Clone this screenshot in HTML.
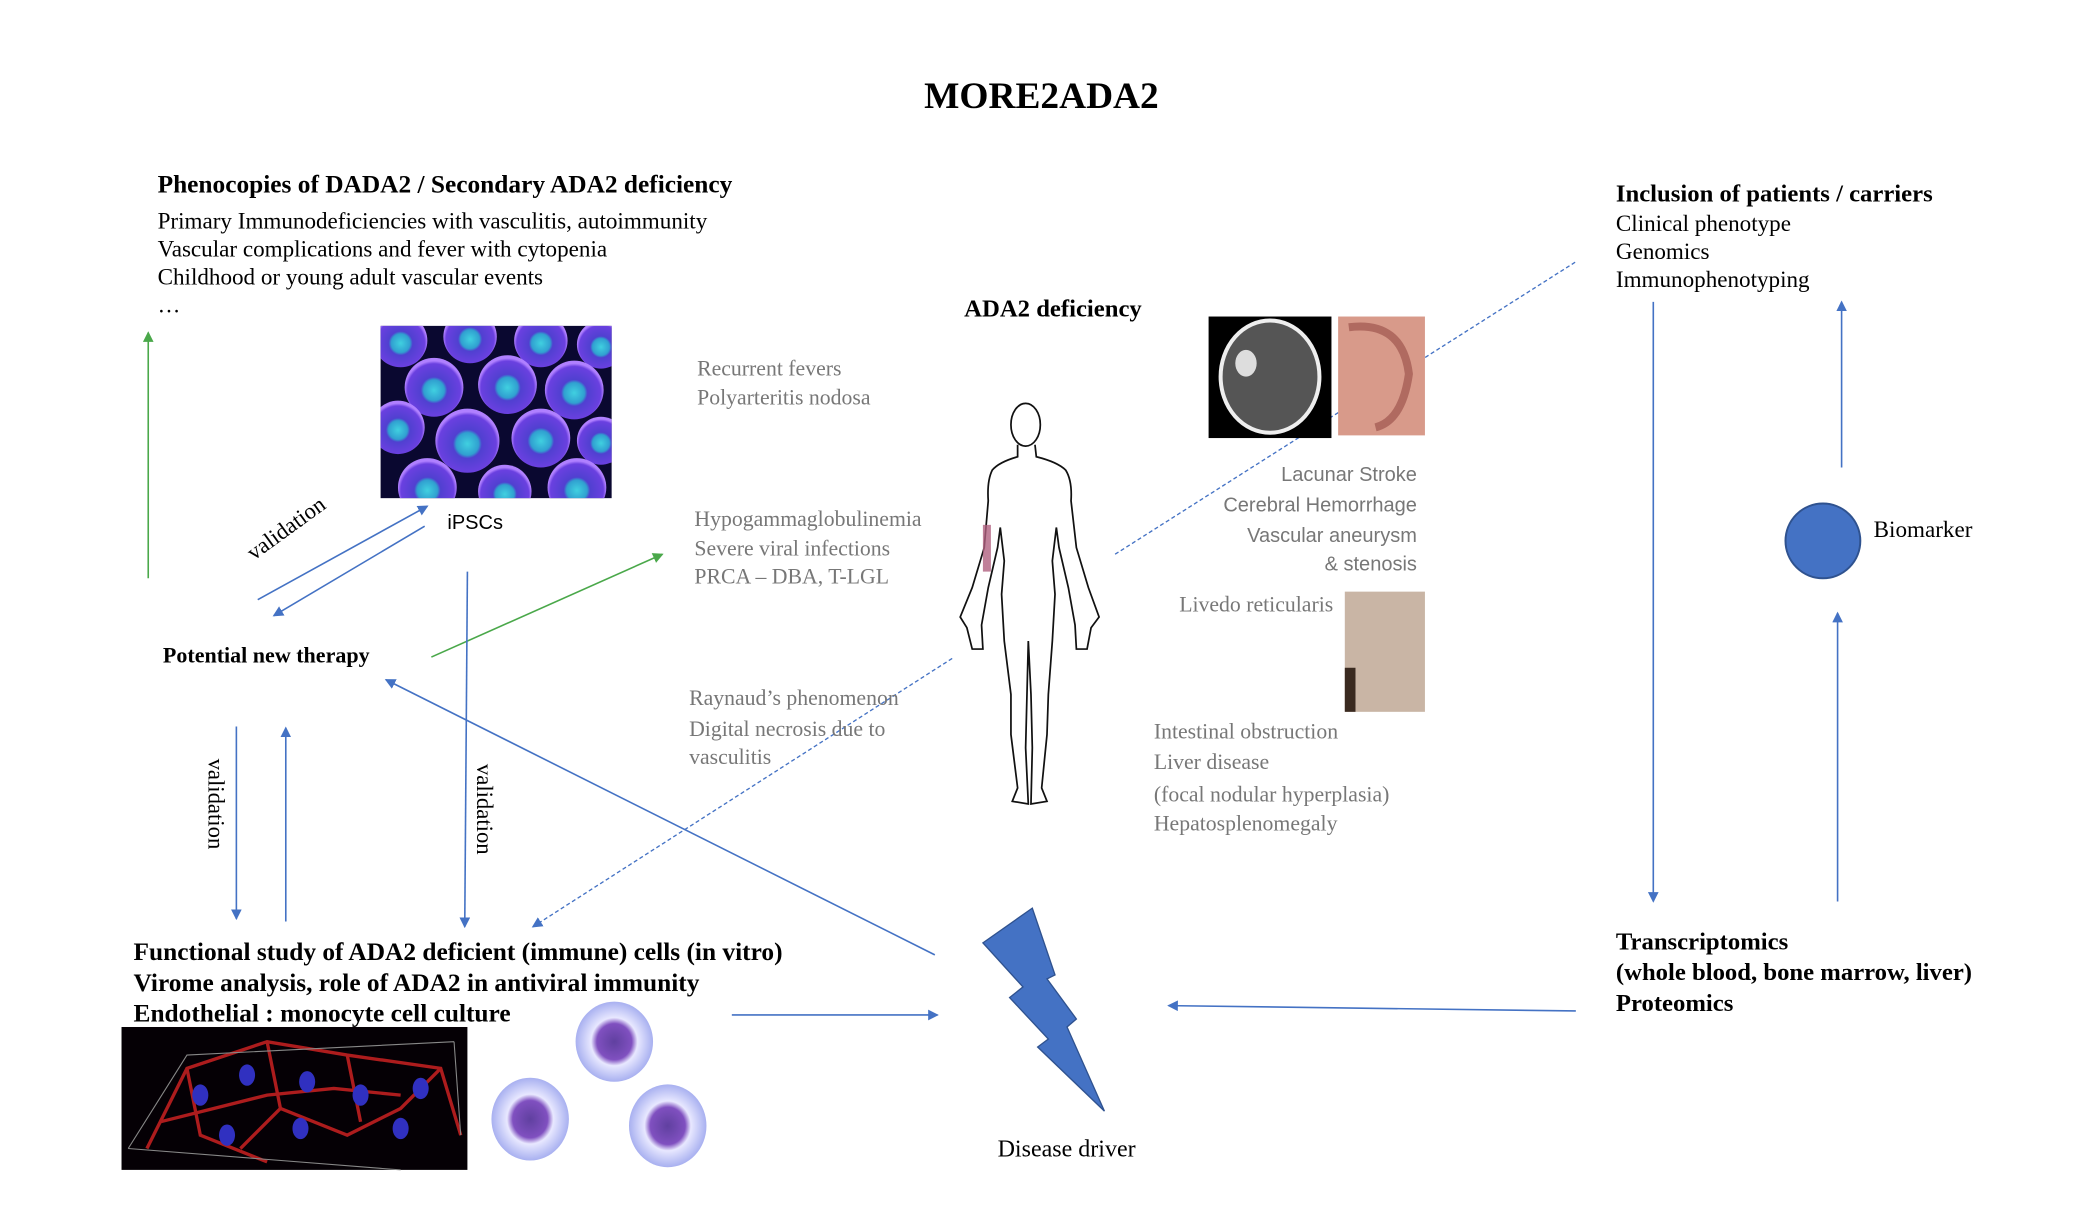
<!DOCTYPE html>
<html><head><meta charset="utf-8"><style>
html,body{margin:0;padding:0;background:#fff;}
svg{display:block;}
.s{font-family:"Liberation Serif",serif;}
.b{font-weight:bold;}
.g{fill:#777;}
.ss{font-family:"Liberation Sans",sans-serif;}
</style></head><body>
<svg width="2094" height="1222" viewBox="0 0 1568 915" xmlns="http://www.w3.org/2000/svg">
<defs>
<marker id="ab" markerWidth="8" markerHeight="8" refX="7" refY="4" orient="auto" markerUnits="userSpaceOnUse"><path d="M0,0 L8,4 L0,8 z" fill="#4472c4"/></marker>
<marker id="ag" markerWidth="8" markerHeight="8" refX="7" refY="4" orient="auto" markerUnits="userSpaceOnUse"><path d="M0,0 L8,4 L0,8 z" fill="#4aa84a"/></marker>
<radialGradient id="cell" cx="0.5" cy="0.55" r="0.5"><stop offset="0" stop-color="#40d0e0"/><stop offset="0.35" stop-color="#30a0d0"/><stop offset="0.45" stop-color="#5040d0"/><stop offset="0.9" stop-color="#6a40e0"/><stop offset="1" stop-color="#b080ff"/></radialGradient>
<radialGradient id="mono" cx="0.5" cy="0.5" r="0.5"><stop offset="0" stop-color="#6040a0"/><stop offset="0.45" stop-color="#8050c0"/><stop offset="0.6" stop-color="#e8e8ff"/><stop offset="1" stop-color="#a8b0f0"/></radialGradient>
<clipPath id="cc"><rect x="285" y="244" width="173" height="129"/></clipPath>
</defs>

<text x="692" y="81" class="s b" font-size="28">MORE2ADA2</text>

<text x="118" y="144" class="s b" font-size="19">Phenocopies of DADA2 / Secondary ADA2 deficiency</text>
<text x="118" y="171" class="s" font-size="17.3">Primary Immunodeficiencies with vasculitis, autoimmunity</text>
<text x="118" y="192" class="s" font-size="17.3">Vascular complications and fever with cytopenia</text>
<text x="118" y="213" class="s" font-size="17.3">Childhood or young adult vascular events</text>
<text x="118" y="234" class="s" font-size="17">…</text>

<rect x="285" y="244" width="173" height="129" fill="#0a0830"/>
<g clip-path="url(#cc)">
<circle cx="300" cy="255" r="20" fill="url(#cell)"/><circle cx="352" cy="252" r="20" fill="url(#cell)"/><circle cx="405" cy="255" r="20" fill="url(#cell)"/><circle cx="450" cy="258" r="18" fill="url(#cell)"/>
<circle cx="325" cy="290" r="22" fill="url(#cell)"/><circle cx="380" cy="288" r="22" fill="url(#cell)"/><circle cx="430" cy="292" r="22" fill="url(#cell)"/>
<circle cx="298" cy="320" r="20" fill="url(#cell)"/><circle cx="350" cy="330" r="24" fill="url(#cell)"/><circle cx="405" cy="328" r="22" fill="url(#cell)"/><circle cx="450" cy="330" r="18" fill="url(#cell)"/>
<circle cx="320" cy="365" r="22" fill="url(#cell)"/><circle cx="378" cy="368" r="20" fill="url(#cell)"/><circle cx="432" cy="365" r="22" fill="url(#cell)"/>
</g>

<text x="335" y="396" class="ss" font-size="15">iPSCs</text>
<text class="s" font-size="17" transform="translate(190,420) rotate(-36)">validation</text>

<line x1="111" y1="433" x2="111" y2="249" stroke="#4aa84a" stroke-width="1.2" marker-end="url(#ag)"/>
<line x1="193" y1="449" x2="320" y2="379" stroke="#4472c4" stroke-width="1.2" marker-end="url(#ab)"/>
<line x1="318" y1="394" x2="205" y2="461" stroke="#4472c4" stroke-width="1.2" marker-end="url(#ab)"/>

<text x="122" y="496" class="s b" font-size="16.5">Potential new therapy</text>
<line x1="323" y1="492" x2="496" y2="415" stroke="#4aa84a" stroke-width="1.2" marker-end="url(#ag)"/>

<line x1="350" y1="428" x2="348" y2="694" stroke="#4472c4" stroke-width="1.2" marker-end="url(#ab)"/>
<text class="s" font-size="17" transform="translate(357,572) rotate(90)">validation</text>
<line x1="177" y1="544" x2="177" y2="688" stroke="#4472c4" stroke-width="1.2" marker-end="url(#ab)"/>
<line x1="214" y1="690" x2="214" y2="545" stroke="#4472c4" stroke-width="1.2" marker-end="url(#ab)"/>
<text class="s" font-size="17" transform="translate(156,568) rotate(90)">validation</text>

<line x1="700" y1="715" x2="289" y2="509" stroke="#4472c4" stroke-width="1.2" marker-end="url(#ab)"/>
<line x1="713" y1="493" x2="399" y2="694" stroke="#4472c4" stroke-width="1" stroke-dasharray="3,2" marker-end="url(#ab)"/>
<line x1="835" y1="415" x2="1180" y2="196" stroke="#4472c4" stroke-width="1" stroke-dasharray="3,2"/>

<text x="100" y="719" class="s b" font-size="19">Functional study of ADA2 deficient (immune) cells (in vitro)</text>
<text x="100" y="742" class="s b" font-size="19">Virome analysis, role of ADA2 in antiviral immunity</text>
<text x="100" y="765" class="s b" font-size="19">Endothelial : monocyte cell culture</text>

<rect x="91" y="769" width="259" height="107" fill="#050005"/>
<g stroke="#c02020" stroke-width="2.5" fill="none" opacity="0.9">
<path d="M110 860 L140 800 L200 780 L260 790 L330 800 L345 850"/>
<path d="M140 800 L150 850 L200 870 M200 780 L210 830 L260 850 L300 830 L330 800 M210 830 L180 860 M260 790 L270 840 M120 840 L160 830 L200 820 L250 815 L300 820"/>
</g>
<g fill="#3030c0"><ellipse cx="150" cy="820" rx="6" ry="8"/><ellipse cx="185" cy="805" rx="6" ry="8"/><ellipse cx="230" cy="810" rx="6" ry="8"/><ellipse cx="270" cy="820" rx="6" ry="8"/><ellipse cx="170" cy="850" rx="6" ry="8"/><ellipse cx="225" cy="845" rx="6" ry="8"/><ellipse cx="300" cy="845" rx="6" ry="8"/><ellipse cx="315" cy="815" rx="6" ry="8"/></g>
<path d="M96 860 L140 790 L340 780 M96 860 L300 876 M340 780 L345 850" stroke="#888" stroke-width="0.8" fill="none"/>

<ellipse cx="460" cy="780" rx="29" ry="30" fill="url(#mono)"/>
<ellipse cx="397" cy="838" rx="29" ry="31" fill="url(#mono)"/>
<ellipse cx="500" cy="843" rx="29" ry="31" fill="url(#mono)"/>

<line x1="548" y1="760" x2="702" y2="760" stroke="#4472c4" stroke-width="1.2" marker-end="url(#ab)"/>

<polygon points="736,706 773,680 790,730 784,733 806,763 799,769 827,832 777,784 785,778 756,747 766,739" fill="#4472c4" stroke="#2f528f" stroke-width="1"/>
<text x="747" y="866" class="s" font-size="18">Disease driver</text>

<text x="522" y="281" class="s g" font-size="16.3">Recurrent fevers</text>
<text x="522" y="303" class="s g" font-size="16.3">Polyarteritis nodosa</text>
<text x="520" y="394" class="s g" font-size="16.3">Hypogammaglobulinemia</text>
<text x="520" y="416" class="s g" font-size="16.3">Severe viral infections</text>
<text x="520" y="437" class="s g" font-size="16.3">PRCA – DBA, T-LGL</text>
<text x="516" y="528" class="s g" font-size="16.3">Raynaud’s phenomenon</text>
<text x="516" y="551" class="s g" font-size="16.3">Digital necrosis due to</text>
<text x="516" y="572" class="s g" font-size="16.3">vasculitis</text>

<text x="722" y="237" class="s b" font-size="18.5">ADA2 deficiency</text>

<g fill="none" stroke="#111" stroke-width="1.3">
<ellipse cx="768" cy="318" rx="11" ry="16"/>
<path d="M762 333 L762 342 Q748 346 743 352 Q739 360 740 375 L737 410 L728 440 L719 462 L724 470 L728 486 L736 486 L735 468 L740 440 L747 410 L749 395 L752 420 L750 445 L752 480 L757 520 L757 550 L762 590 L758 600 L770 602 L768 560 L769 520 L770 480 L772 520 L773 560 L772 602 L784 600 L780 590 L784 550 L785 520 L788 480 L790 445 L788 420 L791 395 L793 410 L800 440 L805 468 L806 486 L814 486 L817 470 L823 462 L815 440 L806 410 L802 375 Q803 360 798 352 Q792 346 776 342 L775 333"/>
</g>
<rect x="736" y="393" width="6" height="35" fill="#b06080" opacity="0.8"/>

<rect x="905" y="237" width="92" height="91" fill="#000"/>
<ellipse cx="951" cy="282" rx="37" ry="42" fill="#555" stroke="#eee" stroke-width="3"/>
<ellipse cx="933" cy="272" rx="8" ry="10" fill="#ddd"/>
<rect x="1002" y="237" width="65" height="89" fill="#d89a8a"/>
<path d="M1010 245 Q1050 240 1055 280 Q1050 315 1030 320" stroke="#b06a60" stroke-width="6" fill="none"/>

<text x="1061" y="360" class="ss g" font-size="15" text-anchor="end">Lacunar Stroke</text>
<text x="1061" y="383" class="ss g" font-size="15" text-anchor="end">Cerebral Hemorrhage</text>
<text x="1061" y="406" class="ss g" font-size="15" text-anchor="end">Vascular aneurysm</text>
<text x="1061" y="427" class="ss g" font-size="15" text-anchor="end">&amp; stenosis</text>

<text x="883" y="458" class="s g" font-size="16.3">Livedo reticularis</text>
<rect x="1007" y="443" width="60" height="90" fill="#c9b5a5"/>
<rect x="1007" y="500" width="8" height="33" fill="#3a2a20"/>

<text x="864" y="553" class="s g" font-size="16.3">Intestinal obstruction</text>
<text x="864" y="576" class="s g" font-size="16.3">Liver disease</text>
<text x="864" y="600" class="s g" font-size="16.3">(focal nodular hyperplasia)</text>
<text x="864" y="622" class="s g" font-size="16.3">Hepatosplenomegaly</text>

<text x="1210" y="151" class="s b" font-size="18.5">Inclusion of patients / carriers</text>
<text x="1210" y="173" class="s" font-size="17.3">Clinical phenotype</text>
<text x="1210" y="194" class="s" font-size="17.3">Genomics</text>
<text x="1210" y="215" class="s" font-size="17.3">Immunophenotyping</text>

<line x1="1238" y1="226" x2="1238" y2="675" stroke="#4472c4" stroke-width="1.2" marker-end="url(#ab)"/>
<line x1="1379" y1="350" x2="1379" y2="226" stroke="#4472c4" stroke-width="1.2" marker-end="url(#ab)"/>
<circle cx="1365" cy="405" r="28" fill="#4472c4" stroke="#2f528f" stroke-width="1.5"/>
<text x="1403" y="402" class="s" font-size="17.3">Biomarker</text>
<line x1="1376" y1="675" x2="1376" y2="459" stroke="#4472c4" stroke-width="1.2" marker-end="url(#ab)"/>

<text x="1210" y="711" class="s b" font-size="18.5">Transcriptomics</text>
<text x="1210" y="734" class="s b" font-size="18.5">(whole blood, bone marrow, liver)</text>
<text x="1210" y="757" class="s b" font-size="18.5">Proteomics</text>
<line x1="1180" y1="757" x2="875" y2="753" stroke="#4472c4" stroke-width="1.2" marker-end="url(#ab)"/>
</svg>
</body></html>
